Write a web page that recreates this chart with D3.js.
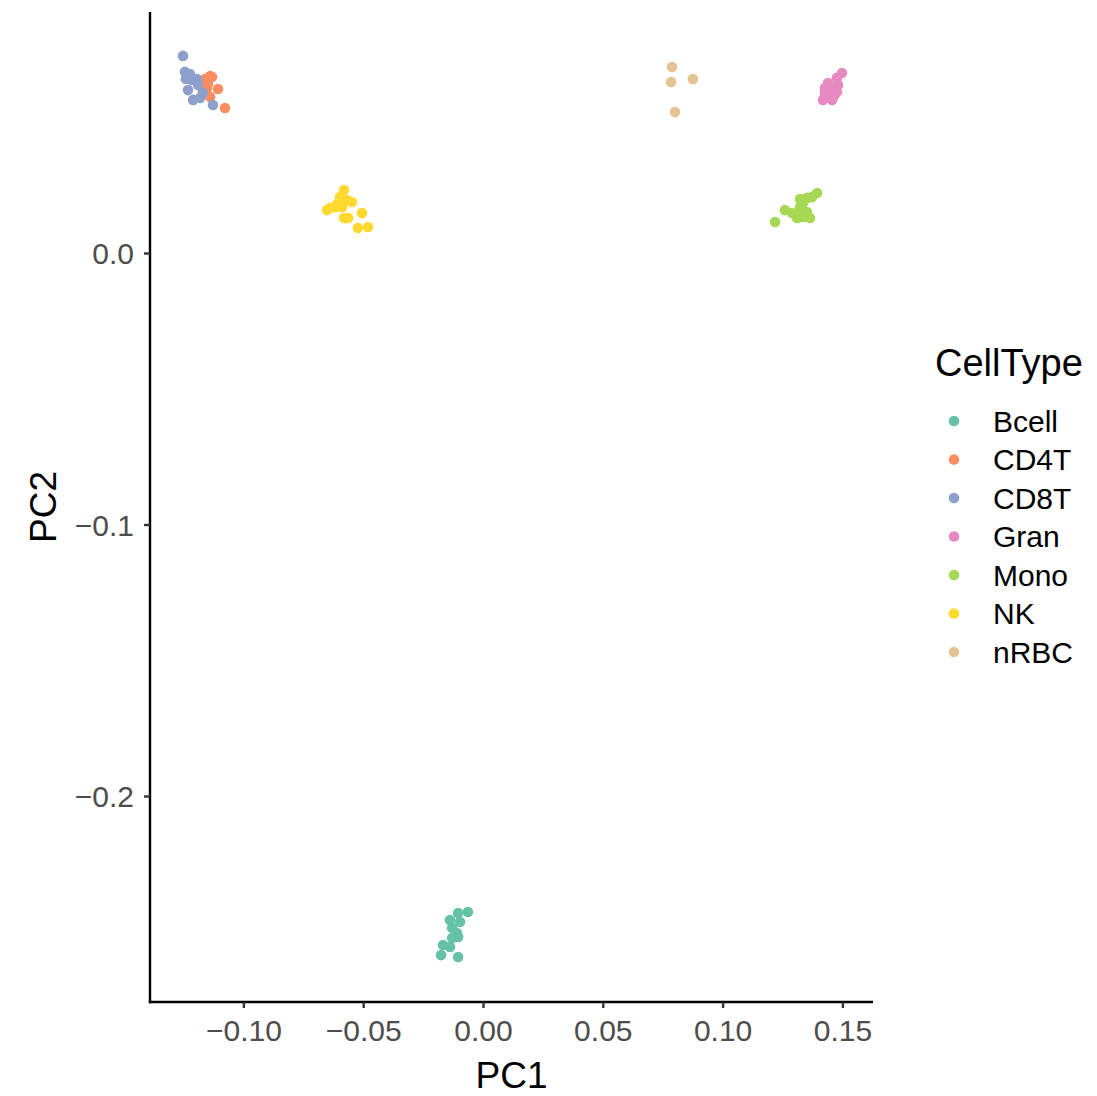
<!DOCTYPE html>
<html>
<head>
<meta charset="utf-8">
<script src="https://cdn.jsdelivr.net/npm/d3@7"></script>
<style>
  html, body { margin: 0; padding: 0; background: #fff; }
  svg { display: block; font-family: "Liberation Sans", Arial, Helvetica, sans-serif; }
</style>
</head>
<body>
<svg id="chart" width="1097" height="1096"></svg>
<script>
const categories = ["Bcell", "CD4T", "CD8T", "Gran", "Mono", "NK", "nRBC"];
const colors = ["#66C2A5", "#FC8D62", "#8DA0CB", "#E78AC3", "#A6D854", "#FFD92F", "#E5C494"];

const bcellPC1 = [-0.0063, -0.0104, -0.0138, -0.0096, -0.0129, -0.0109, -0.0104, -0.0129, -0.0167, -0.0138, -0.0175, -0.0104];
const bcellPC2 = [-0.2427, -0.2431, -0.2457, -0.2464, -0.2486, -0.2505, -0.2519, -0.2523, -0.2549, -0.2556, -0.2586, -0.2593];

const cd4tPC1 = [-0.1139, -0.1160, -0.1148, -0.1106, -0.1169, -0.1139, -0.1077, -0.1152, -0.1131, -0.1177];
const cd4tPC2 = [0.0652, 0.0641, 0.0622, 0.0604, 0.0593, 0.0575, 0.0534, 0.0608, 0.0648, 0.0622];

const cd8tPC1 = [-0.1252, -0.1244, -0.1223, -0.1215, -0.1194, -0.1231, -0.1210, -0.1181, -0.1169, -0.1127, -0.1189, -0.1240];
const cd8tPC2 = [0.0726, 0.0667, 0.0659, 0.0637, 0.0641, 0.0600, 0.0564, 0.0571, 0.0589, 0.0545, 0.0619, 0.0641];

const granPC1 = [0.1498, 0.1477, 0.1440, 0.1427, 0.1457, 0.1482, 0.1427, 0.1440, 0.1419, 0.1457, 0.1477, 0.1465];
const granPC2 = [0.0663, 0.0645, 0.0626, 0.0608, 0.0608, 0.0619, 0.0589, 0.0575, 0.0564, 0.0564, 0.0593, 0.0578];

const monoPC1 = [0.1219, 0.1260, 0.1311, 0.1336, 0.1365, 0.1323, 0.1336, 0.1352, 0.1373, 0.1394, 0.1323, 0.1290, 0.1352, 0.1323];
const monoPC2 = [0.0114, 0.0158, 0.0129, 0.0133, 0.0129, 0.0169, 0.0184, 0.0203, 0.0206, 0.0221, 0.0151, 0.0147, 0.0151, 0.0199];

const nkPC1 = [-0.0580, -0.0568, -0.0639, -0.0651, -0.0618, -0.0588, -0.0547, -0.0609, -0.0563, -0.0580, -0.0505, -0.0522, -0.0480, -0.0597];
const nkPC2 = [0.0232, 0.0195, 0.0166, 0.0158, 0.0169, 0.0169, 0.0188, 0.0180, 0.0129, 0.0129, 0.0147, 0.0092, 0.0096, 0.0206];

const nrbcPC1 = [0.0789, 0.0785, 0.0876, 0.0801];
const nrbcPC2 = [0.0685, 0.0630, 0.0641, 0.0519];

const xTicks = [-0.10, -0.05, 0.00, 0.05, 0.10, 0.15];
const yTicks = [0.0, -0.1, -0.2];

const groups = [
  [bcellPC1, bcellPC2], [cd4tPC1, cd4tPC2], [cd8tPC1, cd8tPC2], [granPC1, granPC2],
  [monoPC1, monoPC2], [nkPC1, nkPC2], [nrbcPC1, nrbcPC2]
];
const points = [];
groups.forEach((g, i) => g[0].forEach((v, j) => points.push({ type: categories[i], pc1: v, pc2: g[1][j] })));

const svg = d3.select("#chart");
const panel = { left: 150, right: 873, top: 12, bottom: 1002 };

const x = d3.scaleLinear().domain([-0.13898, 0.16277]).range([panel.left, panel.right]);
const y = d3.scaleLinear().domain([-0.27587, 0.08877]).range([panel.bottom, panel.top]);
const color = d3.scaleOrdinal().domain(categories).range(colors);

// points
svg.append("g").selectAll("circle").data(points).join("circle")
  .attr("cx", d => x(d.pc1)).attr("cy", d => y(d.pc2)).attr("r", 5.3)
  .attr("fill", d => color(d.type));

// axes
const fmt2 = d3.format(".2f"), fmt1 = d3.format(".1f");
const xAxis = svg.append("g").attr("transform", `translate(0,${panel.bottom})`)
  .call(d3.axisBottom(x).tickValues(xTicks).tickFormat(fmt2).tickSize(6).tickPadding(6).tickSizeOuter(0));
const yAxis = svg.append("g").attr("transform", `translate(${panel.left},0)`)
  .call(d3.axisLeft(y).tickValues(yTicks).tickFormat(fmt1).tickSize(6).tickPadding(10).tickSizeOuter(0));

[xAxis, yAxis].forEach(a => {
  a.select(".domain").attr("stroke", "#000").attr("stroke-width", 2.4);
  a.selectAll(".tick line").attr("stroke", "#333").attr("stroke-width", 2.4);
  a.selectAll(".tick text").attr("fill", "#4D4D4D").style("font-size", "30px");
});
xAxis.select(".domain").attr("d", `M${panel.left - 1.2},0H${panel.right}`);
yAxis.select(".domain").attr("d", `M0,${panel.top}V${panel.bottom + 1.2}`);
xAxis.selectAll(".tick text").attr("dy", "0.9em");
yAxis.selectAll(".tick text").attr("dy", "0.36em");

// axis titles
svg.append("text").attr("x", (panel.left + panel.right) / 2).attr("y", 1088)
  .attr("text-anchor", "middle").style("font-size", "37px").attr("fill", "#000").text("PC1");
svg.append("text").attr("transform", `translate(56,${(panel.top + panel.bottom) / 2}) rotate(-90)`)
  .attr("text-anchor", "middle").style("font-size", "37px").attr("fill", "#000").text("PC2");

// legend
const legend = svg.append("g");
legend.append("text").attr("x", 935).attr("y", 376).style("font-size", "38px").attr("fill", "#000").text("CellType");
const items = legend.selectAll("g.item").data(categories).join("g").attr("class", "item")
  .attr("transform", (d, i) => `translate(0,${421 + i * 38.5})`);
items.append("circle").attr("cx", 954).attr("cy", 0).attr("r", 5.3).attr("fill", d => color(d));
items.append("text").attr("x", 993).attr("y", 0).attr("dy", "0.36em").style("font-size", "30px").attr("fill", "#000").text(d => d);
</script>
</body>
</html>
